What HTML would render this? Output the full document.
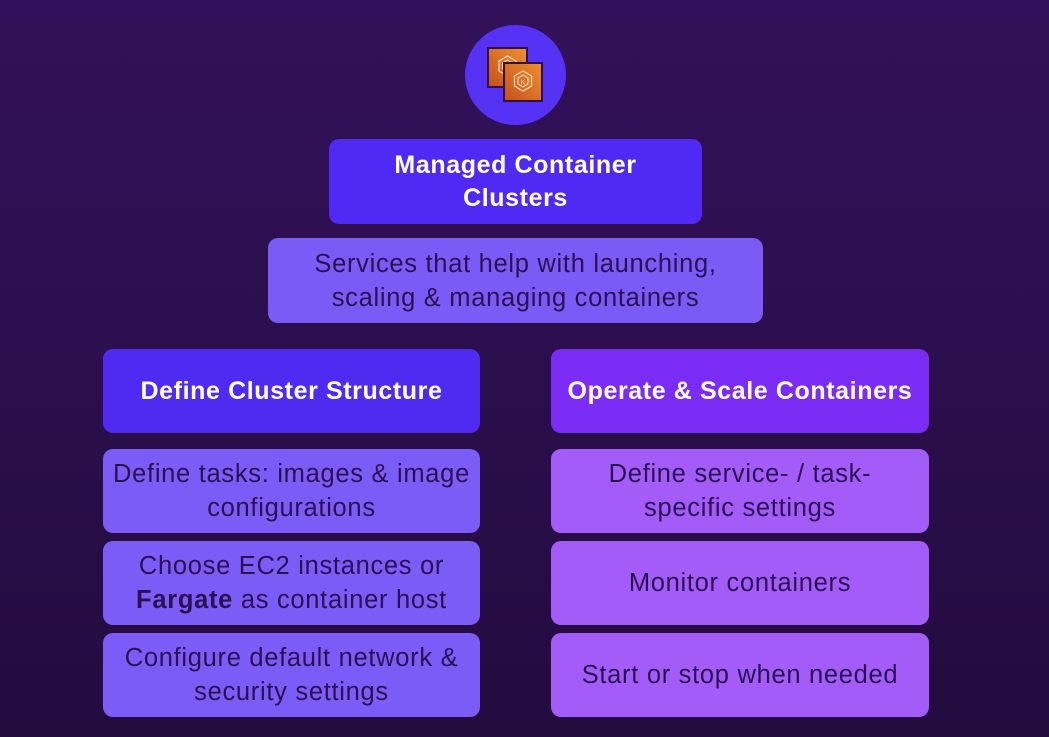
<!DOCTYPE html>
<html>
<head>
<meta charset="utf-8">
<style>
html,body{margin:0;padding:0;}
body{width:1049px;height:737px;overflow:hidden;position:relative;
background:linear-gradient(180deg,#33115a 0%,#2b0f4d 50%,#230b3e 100%);
font-family:"Liberation Sans",sans-serif;}
.b{position:absolute;border-radius:10px;display:flex;align-items:center;justify-content:center;text-align:center;box-sizing:border-box;}
.b > div{width:100%;}
.h{color:#fff;font-weight:bold;font-size:25px;line-height:33px;letter-spacing:0.6px;}
.t{color:#2a1152;font-size:25.5px;line-height:34px;letter-spacing:0.7px;}
.l{background:#7c5cf6;}
.r{background:#a35cf8;}
</style>
</head>
<body>
<div style="position:absolute;left:465px;top:25px;width:101px;height:100px;border-radius:50%;background:#5632f5;"></div>
<svg style="position:absolute;left:480px;top:40px" width="70" height="70" viewBox="0 0 70 70">
<defs>
<linearGradient id="g" x1="0" y1="1" x2="1" y2="0">
<stop offset="0" stop-color="#c4501c"/><stop offset="1" stop-color="#f0902c"/>
</linearGradient>
</defs>
<rect x="8" y="8" width="39" height="39" fill="url(#g)" stroke="#2a1152" stroke-width="2"/>
<polygon points="27.5,16 36,21 36,31 27.5,36 19,31 19,21" fill="none" stroke="#f8d9b8" stroke-width="1.3"/>
<polygon points="27.5,20 32.5,23 32.5,29 27.5,32 22.5,29 22.5,23" fill="none" stroke="#f8d9b8" stroke-width="1.1"/>
<rect x="24" y="23" width="38" height="38" fill="url(#g)" stroke="#2a1152" stroke-width="2"/>
<polygon points="43,31 51.5,36 51.5,46 43,51 34.5,46 34.5,36" fill="none" stroke="#f8d9b8" stroke-width="1.3"/>
<polygon points="43,35 48,38 48,44 43,47 38,44 38,38" fill="none" stroke="#f8d9b8" stroke-width="1.1"/>
<text x="43" y="44.5" font-size="7" fill="#f8d9b8" text-anchor="middle" font-family="Liberation Sans">K</text>
</svg>

<div class="b h" style="left:329px;top:139px;width:373px;height:85px;background:#5029f5;"><div>Managed Container<br>Clusters</div></div>
<div class="b t" style="left:268px;top:238px;width:495px;height:85px;background:#7b5bf5;"><div>Services that help with launching,<br>scaling &amp; managing containers</div></div>

<div class="b h" style="left:103px;top:349px;width:377px;height:84px;background:#4f2bf2;"><div>Define Cluster Structure</div></div>
<div class="b t l" style="left:103px;top:449px;width:377px;height:84px;"><div>Define tasks: images &amp; image<br>configurations</div></div>
<div class="b t l" style="left:103px;top:541px;width:377px;height:84px;"><div>Choose EC2 instances or<br><b>Fargate</b> as container host</div></div>
<div class="b t l" style="left:103px;top:633px;width:377px;height:84px;"><div>Configure default network &amp;<br>security settings</div></div>

<div class="b h" style="left:551px;top:349px;width:378px;height:84px;background:#7a2cf5;"><div>Operate &amp; Scale Containers</div></div>
<div class="b t r" style="left:551px;top:449px;width:378px;height:84px;"><div>Define service- / task-<br>specific settings</div></div>
<div class="b t r" style="left:551px;top:541px;width:378px;height:84px;"><div>Monitor containers</div></div>
<div class="b t r" style="left:551px;top:633px;width:378px;height:84px;"><div>Start or stop when needed</div></div>
</body>
</html>
